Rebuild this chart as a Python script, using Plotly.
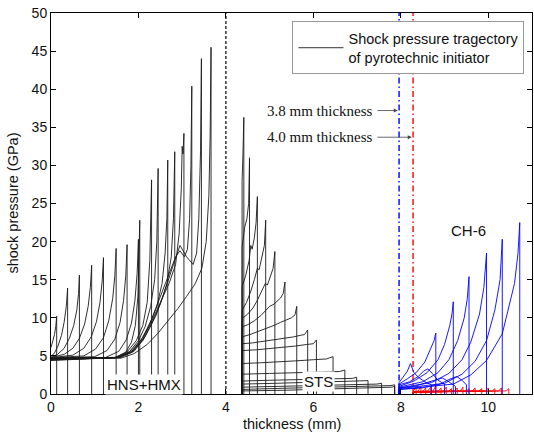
import plotly.graph_objects as go

# ---------------- data ----------------
# HNS+HMX shock pressure trajectories (each ends with a vertical drop to 0)
hns_x = [
    [0.00, 0.04, 0.08, 0.11, 0.13],
    [0.00, 0.08, 0.16, 0.24, 0.30, 0.35, 0.38],
    [0.00, 0.15, 0.30, 0.42, 0.52, 0.59, 0.63, 0.65],
    [0.00, 0.30, 0.50, 0.65, 0.77, 0.85, 0.90, 0.93],
    [0.00, 0.50, 0.75, 0.92, 1.04, 1.12, 1.17, 1.20],
    [0.00, 0.75, 1.02, 1.20, 1.32, 1.41, 1.46, 1.49],
    [0.00, 1.00, 1.28, 1.46, 1.58, 1.66, 1.71, 1.74],
    [0.00, 1.25, 1.55, 1.72, 1.84, 1.92, 1.97, 2.00],
    [0.00, 1.45, 1.70, 1.84, 1.93, 1.99, 2.03],
    [0.00, 1.45, 1.75, 1.95, 2.10, 2.20, 2.26, 2.30],
    [0.00, 1.50, 1.80, 2.00, 2.15, 2.28, 2.37, 2.42, 2.45],
    [0.00, 1.50, 1.80, 2.05, 2.25, 2.42, 2.54, 2.61, 2.65, 2.67],
    [0.00, 1.50, 1.85, 2.10, 2.30, 2.50, 2.65, 2.75, 2.80, 2.83],
    [0.00, 1.55, 1.85, 2.10, 2.30, 2.50, 2.70, 2.85, 2.93, 2.98, 3.00, 3.02, 3.04],
    [0.00, 1.55, 1.85, 2.10, 2.30, 2.50, 2.70, 2.85, 2.95, 3.05, 3.12, 3.17, 3.20, 3.22],
    [0.00, 1.60, 1.90, 2.15, 2.40, 2.60, 2.80, 2.95, 3.10, 3.25, 3.33, 3.38, 3.42, 3.44],
    [0.00, 1.60, 1.90, 2.20, 2.45, 2.70, 2.90, 3.10, 3.30, 3.45, 3.55, 3.61, 3.64, 3.66],
]
hns_y = [
    [6.1, 6.8, 7.8, 8.9, 10.2],
    [4.9, 5.4, 6.3, 7.7, 9.4, 11.5, 13.9],
    [4.8, 5.2, 6.0, 7.3, 9.0, 11.0, 13.2, 15.6],
    [4.8, 5.2, 6.0, 7.3, 9.2, 11.5, 14.0, 16.9],
    [4.75, 5.1, 6.0, 7.5, 9.5, 12.0, 14.8, 17.9],
    [4.75, 5.0, 5.9, 7.4, 9.6, 12.5, 15.5, 19.1],
    [4.7, 4.9, 5.7, 7.2, 9.4, 12.3, 15.5, 19.6],
    [4.7, 4.8, 5.6, 7.1, 9.3, 12.3, 15.8, 20.3],
    [4.6, 4.7, 5.4, 6.8, 9.0, 13.0, 22.8],
    [4.5, 4.75, 5.6, 7.0, 9.0, 12.0, 17.5, 28.1],
    [4.7, 4.8, 5.6, 7.0, 8.8, 11.5, 15.0, 20.0, 29.6],
    [4.45, 4.8, 5.5, 7.0, 9.0, 11.5, 14.5, 18.5, 23.0, 30.7],
    [4.7, 4.8, 5.5, 7.0, 9.2, 11.8, 14.5, 18.0, 23.0, 31.8],
    [4.55, 4.8, 5.5, 7.2, 9.5, 12.0, 14.5, 17.0, 21.0, 27.0, 32.5, 31.5, 34.2],
    [4.7, 4.8, 5.6, 7.4, 9.8, 12.8, 15.8, 18.0, 18.8, 18.0, 19.0, 23.0, 30.0, 40.4],
    [4.4, 4.8, 5.6, 7.5, 10.3, 13.5, 17.0, 19.5, 18.0, 17.0, 18.5, 23.0, 32.0, 44.0],
    [4.6, 4.7, 5.3, 6.5, 8.0, 9.8, 11.2, 12.8, 14.5, 16.5, 20.0, 26.0, 34.0, 45.5],
]

# STS trajectories (rise from 0 at the interface, end with a vertical drop)
sts_x = [
    [4.37, 4.39, 4.41],
    [4.37, 4.43, 4.48, 4.52, 4.54],
    [4.37, 4.45, 4.53, 4.57, 4.60, 4.65, 4.69, 4.72],
    [4.37, 4.47, 4.57, 4.65, 4.72, 4.76, 4.83, 4.88, 4.91],
    [4.37, 4.50, 4.62, 4.72, 4.82, 4.90, 4.95, 5.02, 5.08, 5.12],
    [4.37, 4.50, 4.65, 4.80, 4.92, 5.00, 5.10, 5.18, 5.25, 5.31, 5.35],
    [4.37, 4.55, 4.75, 4.95, 5.10, 5.25, 5.40, 5.50, 5.58, 5.62],
    [4.37, 4.60, 4.85, 5.10, 5.35, 5.55, 5.70, 5.80, 5.87],
    [4.37, 4.70, 5.00, 5.30, 5.60, 5.85, 6.00, 6.07],
    [4.37, 4.80, 5.20, 5.60, 6.00, 6.30, 6.45],
    [4.37, 5.00, 5.60, 6.20, 6.60, 6.72],
    [4.37, 5.00, 5.70, 6.40, 6.90, 6.99],
    [4.37, 5.10, 5.90, 6.60, 7.15, 7.25],
    [4.37, 5.20, 6.10, 6.90, 7.45, 7.56],
    [4.37, 5.30, 6.30, 7.20, 7.75, 7.86],
    [4.37, 5.40, 6.50, 7.40, 7.80, 7.86],
]
sts_y = [
    [27.9, 31.5, 36.3],
    [19.3, 21.9, 23.0, 25.0, 31.0],
    [14.1, 15.5, 17.5, 19.5, 19.0, 20.5, 22.5, 25.9],
    [11.0, 12.0, 13.5, 15.0, 16.5, 16.3, 18.0, 19.5, 22.8],
    [9.9, 10.5, 11.3, 12.3, 13.5, 14.5, 14.3, 15.5, 16.5, 18.7],
    [8.8, 9.1, 9.6, 10.3, 11.0, 11.5, 11.8, 12.3, 12.6, 13.2, 14.7],
    [7.5, 7.8, 8.2, 8.7, 9.0, 9.4, 9.8, 10.0, 10.4, 11.5],
    [6.6, 6.7, 6.9, 7.1, 7.3, 7.5, 7.7, 7.8, 8.4],
    [5.7, 5.8, 5.95, 6.1, 6.3, 6.5, 6.6, 7.1],
    [4.0, 4.1, 4.2, 4.35, 4.5, 4.6, 4.9],
    [2.6, 2.7, 2.8, 2.9, 2.95, 3.15],
    [1.7, 1.8, 1.9, 2.0, 2.05, 2.2],
    [1.3, 1.4, 1.5, 1.6, 1.65, 1.75],
    [0.9, 1.0, 1.1, 1.2, 1.3, 1.4],
    [0.6, 0.75, 0.9, 1.0, 1.1, 1.2],
    [0.4, 0.5, 0.65, 0.8, 0.9, 1.0],
]

# CH-6 trajectories, 3.8 mm case (blue)
blue_x = [
    [7.96, 8.15, 8.35, 8.55, 8.68, 8.76, 8.80],
    [7.96, 8.30, 8.60, 8.85, 9.00, 9.12, 9.17, 9.20],
    [7.96, 8.50, 8.85, 9.10, 9.30, 9.45, 9.52, 9.56],
    [7.96, 8.70, 9.10, 9.40, 9.60, 9.80, 9.90, 9.96],
    [7.96, 9.00, 9.40, 9.70, 9.96, 10.15, 10.27, 10.32],
    [7.96, 9.20, 9.60, 9.96, 10.32, 10.60, 10.68, 10.72],
    [7.96, 8.05, 8.15, 8.22, 8.30, 8.40, 8.55, 8.70],
    [7.96, 8.20, 8.40, 8.52, 8.62, 8.72, 8.85, 9.00],
    [7.96, 8.30, 8.60, 8.80, 8.95, 9.10, 9.25],
    [7.96, 8.50, 8.90, 9.10, 9.28, 9.40, 9.50],
]
blue_y = [
    [1.3, 2.0, 2.8, 4.2, 5.8, 7.0, 8.0],
    [1.0, 1.7, 2.8, 4.5, 6.5, 9.0, 10.5, 12.1],
    [0.9, 1.6, 2.8, 4.5, 7.0, 10.0, 12.5, 15.4],
    [0.8, 1.5, 2.7, 4.5, 6.8, 10.5, 14.0, 18.5],
    [0.7, 1.4, 2.6, 4.3, 7.0, 11.0, 15.0, 20.3],
    [0.6, 1.3, 2.5, 4.4, 7.9, 14.5, 18.5, 22.5],
    [1.5, 2.2, 3.0, 4.0, 2.8, 2.2, 1.6, 1.2],
    [1.2, 1.6, 2.3, 3.0, 3.3, 2.7, 1.8, 1.3],
    [0.8, 1.0, 1.5, 1.9, 2.1, 1.6, 1.0],
    [0.6, 0.8, 1.3, 1.9, 2.3, 1.8, 1.2],
]

# CH-6 trajectories, 4.0 mm case (red)
red_x = [
    [8.28, 8.29, 8.35], [8.28, 8.40, 8.46], [8.28, 8.51, 8.57], [8.28, 8.62, 8.68],
    [8.28, 8.74, 8.80], [8.28, 8.86, 8.92], [8.28, 8.98, 9.04], [8.28, 9.10, 9.16],
    [8.28, 9.23, 9.29], [8.28, 9.36, 9.42], [8.28, 9.50, 9.56], [8.28, 9.64, 9.70],
    [8.28, 9.79, 9.85], [8.28, 9.94, 10.00], [8.28, 10.09, 10.15], [8.28, 10.24, 10.30],
    [8.28, 10.41, 10.47],
]
red_y = [
    [0.25, 0.4, 0.9], [0.25, 0.4, 1.0], [0.25, 0.4, 0.8], [0.25, 0.4, 0.9],
    [0.25, 0.4, 1.1], [0.25, 0.4, 0.8], [0.25, 0.4, 0.9], [0.25, 0.4, 0.7],
    [0.25, 0.4, 0.8], [0.25, 0.4, 0.9], [0.25, 0.4, 0.7], [0.25, 0.4, 0.8],
    [0.25, 0.4, 0.7], [0.25, 0.4, 0.8], [0.25, 0.4, 0.7], [0.25, 0.4, 0.8],
    [0.25, 0.4, 0.7],
]

interface_x = 4.0      # HNS+HMX / STS boundary (dashed)
ref_38_x = 7.96        # 3.8 mm thickness line (blue dash-dot)
ref_40_x = 8.28        # 4.0 mm thickness line (red dash-dot)
y_max = 50

x_ticks = [0, 2, 4, 6, 8, 10]
y_ticks = [0, 5, 10, 15, 20, 25, 30, 35, 40, 45, 50]


def build(xs_list, ys_list, from_zero):
    X, Y = [], []
    for xs, ys in zip(xs_list, ys_list):
        if from_zero:
            X.append(xs[0]); Y.append(0)
        X += xs; Y += ys
        X.append(xs[-1]); Y.append(0)
        X.append(None); Y.append(None)
    return X, Y


HX, HY = build(hns_x, hns_y, False)
SX, SY = build(sts_x, sts_y, True)
BX, BY = build(blue_x, blue_y, True)
RX, RY = build(red_x, red_y, True)

fig = go.Figure()
BLACK = '#1a1a1a'
fig.add_trace(go.Scatter(x=[interface_x, interface_x], y=[0, y_max], mode='lines',
                         line=dict(color='#000', width=1.2, dash='3px,2px'),
                         showlegend=False, hoverinfo='skip'))
fig.add_trace(go.Scatter(x=[ref_38_x, ref_38_x], y=[0, y_max], mode='lines',
                         line=dict(color='#0000ff', width=1.4, dash='6px,3px,1.5px,3px'),
                         showlegend=False, hoverinfo='skip'))
fig.add_trace(go.Scatter(x=[ref_40_x, ref_40_x], y=[0, y_max], mode='lines',
                         line=dict(color='#ff0000', width=1.4, dash='6px,3px,1.5px,3px'),
                         showlegend=False, hoverinfo='skip'))
fig.add_trace(go.Scatter(x=HX, y=HY, mode='lines', line=dict(color=BLACK, width=0.9),
                         name='Shock pressure tragectory<br>of pyrotechnic initiator',
                         showlegend=True))
fig.add_trace(go.Scatter(x=SX, y=SY, mode='lines', line=dict(color=BLACK, width=0.9),
                         showlegend=False))
fig.add_trace(go.Scatter(x=RX, y=RY, mode='lines', line=dict(color='#ff0000', width=0.9),
                         showlegend=False))
fig.add_trace(go.Scatter(x=BX, y=BY, mode='lines', line=dict(color='#0000ff', width=0.9),
                         showlegend=False))

SANS = 'Liberation Sans, Arial, sans-serif'
SERIF = 'Liberation Serif, Times New Roman, serif'

ann = []
ann.append(dict(x=2.13, y=1.3, text='HNS+HMX', showarrow=False, bgcolor='white',
                font=dict(family=SANS, size=15, color='#111'), borderpad=1))
ann.append(dict(x=6.11, y=1.6, text='STS', showarrow=False, bgcolor='white',
                font=dict(family=SANS, size=15, color='#111'), borderpad=1))
ann.append(dict(x=9.54, y=21.5, text='CH-6', showarrow=False,
                font=dict(family=SANS, size=15, color='#111')))
ann.append(dict(x=7.41, y=37.2, text='3.8 mm thickness', showarrow=False, xanchor='right',
                font=dict(family=SERIF, size=15, color='#111')))
ann.append(dict(x=7.41, y=33.7, text='4.0 mm thickness', showarrow=False, xanchor='right',
                font=dict(family=SERIF, size=15, color='#111')))
ann.append(dict(x=ref_38_x - 0.03, y=37.2, ax=7.43, ay=37.2, axref='x', ayref='y', xref='x', yref='y',
                text='', showarrow=True, arrowhead=2, arrowsize=1, arrowwidth=0.8, arrowcolor='#444'))
ann.append(dict(x=ref_40_x - 0.03, y=33.7, ax=7.43, ay=33.7, axref='x', ayref='y', xref='x', yref='y',
                text='', showarrow=True, arrowhead=2, arrowsize=1, arrowwidth=0.8, arrowcolor='#444'))
# axis titles
ann.append(dict(xref='paper', yref='paper', x=0.5, y=-0.0776, xanchor='center', yanchor='middle',
                text='thickness (mm)', showarrow=False,
                font=dict(family=SANS, size=14.5, color='#111')))
ann.append(dict(xref='paper', yref='paper', x=-0.081, y=0.5, xanchor='center', yanchor='middle',
                text='shock pressure (GPa)', textangle=-90, showarrow=False,
                font=dict(family=SANS, size=14.5, color='#111')))

axis_common = dict(showline=True, linecolor='#000', linewidth=1, mirror='ticks', ticks='inside',
                   ticklen=5, tickwidth=1, tickcolor='#000', showgrid=False, zeroline=False,
                   automargin=False, tickfont=dict(family=SANS, size=14, color='#111'))

fig.update_layout(
    width=534, height=436,
    margin=dict(l=51, r=2, t=13, b=42),
    paper_bgcolor='white', plot_bgcolor='white',
    xaxis=dict(range=[0, 11], tickvals=x_ticks, **axis_common),
    yaxis=dict(range=[0, y_max], tickvals=y_ticks, **axis_common),
    legend=dict(x=0.502, y=0.978, xanchor='left', yanchor='top', bgcolor='white',
                bordercolor='#999', borderwidth=1, itemwidth=45,
                font=dict(family=SANS, size=14.5, color='#111')),
    annotations=ann,
    showlegend=True,
)

fig.write_html('out.html', config={'displayModeBar': False},
               post_script="document.body.style.margin='0';document.body.style.overflow='hidden';")
